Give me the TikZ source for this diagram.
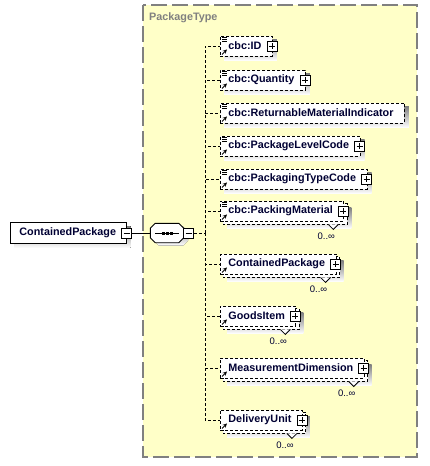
\documentclass[tikz,border=0pt]{standalone}
\usepackage{fontspec}
\setmainfont{Liberation Sans}
\usetikzlibrary{arrows,calc}
\pgfdeclarelayer{background}
\pgfsetlayers{background,main}
\definecolor{typebg}{RGB}{255,255,200}
\definecolor{typeborder}{RGB}{128,128,128}
\definecolor{shade}{RGB}{185,185,185}
\definecolor{ink}{RGB}{0,0,51}
\tikzstyle{typeframe}=[draw=typeborder,line width=1.6pt,dash pattern=on 16pt off 5pt]
\tikzstyle{typename}=[anchor=west,inner sep=0pt,text=typeborder,font=\bfseries\fontsize{10.8}{12}\selectfont]
\tikzstyle{element}=[draw,line width=0.9pt,dash pattern=on 3pt off 2pt,fill=white,minimum height=20pt,inner xsep=3pt,inner ysep=0pt,anchor=west,text=ink,font=\bfseries\fontsize{10.8}{12}\selectfont,execute at begin node={\hspace*{5pt}},execute at end node={\hspace*{8pt}}]
\tikzstyle{copybox}=[draw,line width=0.9pt,dash pattern=on 3pt off 2pt,fill=white]
\tikzstyle{root}=[draw,line width=0.9pt,fill=white,minimum height=21pt,inner xsep=9pt,inner ysep=0pt,anchor=west,text=ink,font=\bfseries\fontsize{10.8}{12}\selectfont,execute at end node={\hspace*{1pt}}]
\tikzstyle{seq}=[minimum width=33pt,minimum height=19pt,inner sep=0pt]
\tikzstyle{toggle}=[draw,line width=0.8pt,fill=white,minimum size=10pt,inner sep=0pt]
\tikzstyle{plusbox}=[toggle,path picture={
  \draw[line width=0.8pt] ($(path picture bounding box.west)+(2pt,0pt)$) -- ($(path picture bounding box.east)+(-2pt,0pt)$);
  \draw[line width=0.8pt] ($(path picture bounding box.north)+(0pt,-2pt)$) -- ($(path picture bounding box.south)+(0pt,2pt)$);}]
\tikzstyle{minusbox}=[toggle,path picture={
  \draw[line width=0.8pt] ($(path picture bounding box.west)+(2pt,0pt)$) -- ($(path picture bounding box.east)+(-2pt,0pt)$);}]
\tikzstyle{conn}=[draw,line width=0.9pt,dash pattern=on 3pt off 2pt]
\tikzstyle{link}=[draw,line width=0.9pt]
\tikzstyle{docmark}=[line width=0.8pt]
\tikzstyle{refmark}=[line width=0.9pt,-stealth]
\tikzstyle{mult}=[inner sep=0pt,text=ink,font=\fontsize{9.5}{11}\selectfont]

\begin{document}
\begin{tikzpicture}[x=1pt,y=-1pt]
  \useasboundingbox (0,0) rectangle (429,466);

  % First the type box
  \begin{pgfonlayer}{background}
    \fill[typebg] (143,5) rectangle (417,457);
    \path[typeframe] (143,5) rectangle (417,457);
  \end{pgfonlayer}
  \node[typename] (ptname) at (149,18) {PackageType};

  % The root element and its sequence
  \node[root] (cpkg) at (10,233) {ContainedPackage};
  \node[minusbox] (cpkg-t) at (cpkg.east) {};
  \node[seq] (seq) at (167,233) {};
  \begin{pgfonlayer}{background}
    \fill[shade,shift={(4,3)}] (155,223.5) -- (179,223.5) -- (184,228.5) -- (184,237.5) -- (179,242.5)
      -- (155,242.5) -- (150,237.5) -- (150,228.5) -- cycle;
  \end{pgfonlayer}
  \draw[line width=0.9pt,fill=white] ($(seq.north west)+(5,0)$) -- ($(seq.north east)+(-5,0)$) -- ($(seq.north east)+(0,5)$)
    -- ($(seq.south east)+(0,-5)$) -- ($(seq.south east)+(-5,0)$) -- ($(seq.south west)+(5,0)$)
    -- ($(seq.south west)+(0,-5)$) -- ($(seq.north west)+(0,5)$) -- cycle;
  \node[minusbox] (seq-t) at ($(seq.east)+(5,0)$) {};
  \coordinate (spine) at (205,233);
  \draw[line width=1pt] ($(seq.west)+(5,0)$) -- ($(seq.east)+(-5,0)$);
  \foreach \dx in {-4,0,4}
    \fill ($(seq.center)+(\dx-1.5,-1.5)$) rectangle +(3,3);
  \path[link] (cpkg-t) -- (seq);
  \path[conn] (seq-t) -- (spine);

  % Then the child elements
  \foreach \y/\name/\txt in {46/id/cbc:ID, 80/qty/cbc:Quantity, 113/rmi/cbc:ReturnableMaterialIndicator,
                            146/plc/cbc:PackageLevelCode, 179/ptc/cbc:PackagingTypeCode, 211/pm/cbc:PackingMaterial,
                            264/cp/ContainedPackage, 316/gi/GoodsItem, 368/md/MeasurementDimension, 420/du/DeliveryUnit}
    \node[element] (\name) at (220,\y) {\txt};

  \foreach \name in {id,qty,rmi,plc,ptc,pm,cp,gi,md,du}
    \path[conn] (spine) |- (\name.west);

  % Shadows and stacked copies behind the boxes
  \begin{pgfonlayer}{background}
    \fill[shade] ($(cpkg.north west)+(4,4)$) rectangle ($(cpkg.south east)+(4,4)$);
    \foreach \name in {id,qty,rmi,plc,ptc}
      \fill[shade] ($(\name.north west)+(4,4)$) rectangle ($(\name.south east)+(4,4)$);
    \foreach \name in {pm,cp,gi,md,du}{
      \fill[shade] ($(\name.north west)+(7,7)$) rectangle ($(\name.south east)+(7,7)$);
      \path[copybox] ($(\name.north west)+(3,3)$) rectangle ($(\name.south east)+(3,3)$);
    }
  \end{pgfonlayer}

  % Icons, toggles and occurrences
  \foreach \name in {id,qty,rmi,plc,ptc,pm}
    \foreach \k in {2,4,6}
      \draw[docmark] ($(\name.north west)+(2,\k)$) -- +(5,0);
  \foreach \name in {id,qty,rmi,plc,ptc,pm,cp,gi,md,du}
    \draw[refmark] ($(\name.south west)+(2,-2)$) -- +(5,-5);
  \foreach \name in {id,qty,plc,ptc,pm,cp,gi,md,du}
    \node[plusbox] (\name-t) at ($(\name.east)+(-1,0)$) {};
  \foreach \name in {pm,cp,gi,md,du}{
    \draw[line width=0.8pt,fill=white] ($(\name.south east)+(-16,3)$) -- ++(5,5) -- ++(5,-5);
    \node[mult] (\name-m) at ($(\name.south east)+(-18,15)$) {0..∞};
  }
\end{tikzpicture}
\end{document}
